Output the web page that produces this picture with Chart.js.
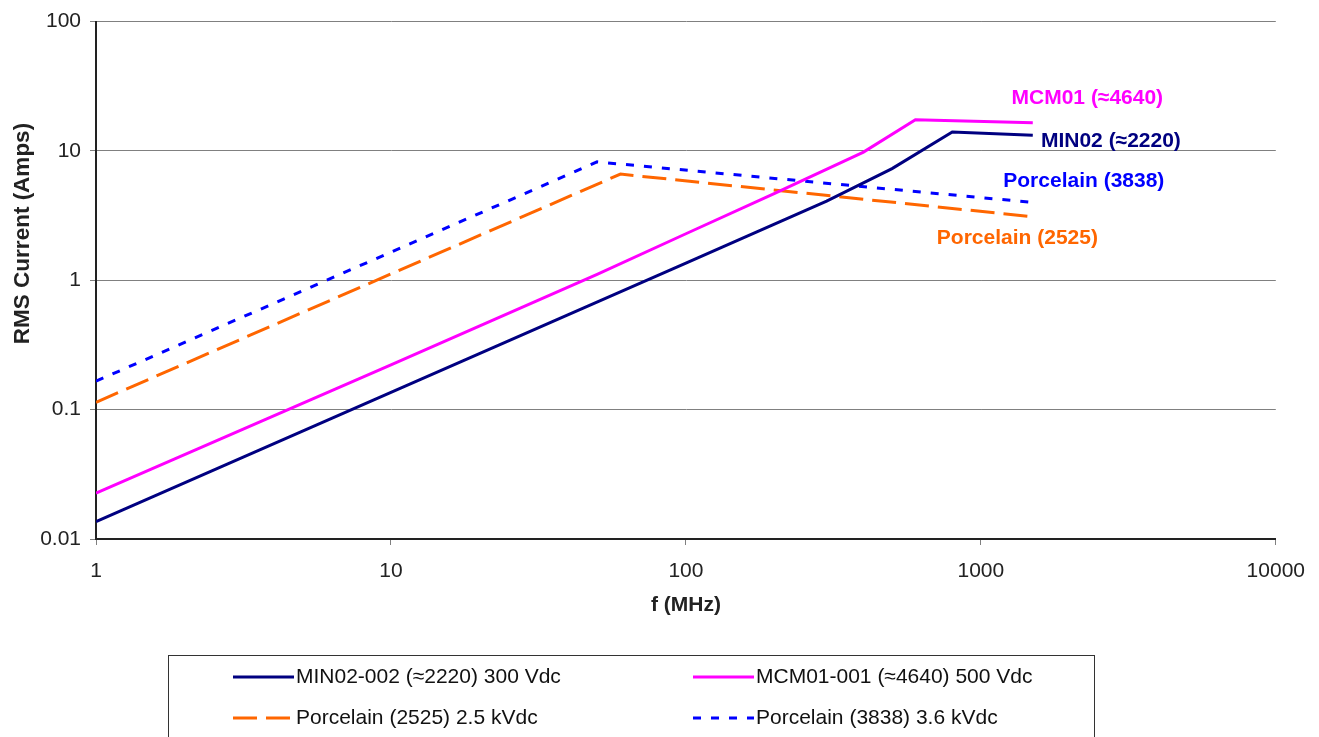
<!DOCTYPE html>
<html>
<head>
<meta charset="utf-8">
<title>RMS Current vs Frequency</title>
<script src="https://cdn.jsdelivr.net/npm/chart.js@4.4.0/dist/chart.umd.min.js"></script>
<style>
    html, body { margin: 0; padding: 0; background: #fff; }
    #wrap { width: 1319px; height: 737px; }
</style>
</head>
<body>
<div id="wrap"><canvas id="rmsChart" width="1319" height="737"></canvas></div>
<script>
// Данные: частота (МГц) и ток (А)
const min02Freq = [1, 10, 100, 300, 500, 800, 1500];
const min02Amps = [0.0136, 0.136, 1.36, 4.1, 7.3, 14.0, 13.2];

const mcm01Freq = [1, 10, 50, 100, 200, 400, 600, 1500];
const mcm01Amps = [0.0226, 0.222, 1.11, 2.29, 4.7, 9.8, 17.4, 16.5];

const p2525Freq = [1, 60, 1500];
const p2525Amps = [0.114, 6.62, 3.1];

const p3838Freq = [1, 50, 1500];
const p3838Amps = [0.166, 8.23, 4.0];

const seriesLabels = [
    'MIN02-002 (≈2220) 300 Vdc',
    'MCM01-001 (≈4640) 500 Vdc',
    'Porcelain (2525) 2.5 kVdc',
    'Porcelain (3838) 3.6 kVdc'
];

// Подписи осей
const xTickValues = [1, 10, 100, 1000, 10000];
const xTickLabels = ['1', '10', '100', '1000', '10000'];
const yTickValues = [0.01, 0.1, 1, 10, 100];
const yTickLabels = ['0.01', '0.1', '1', '10', '100'];

// Надписи у кривых (в координатах данных)
const noteTexts = ['MCM01 (≈4640)', 'MIN02 (≈2220)', 'Porcelain (3838)', 'Porcelain (2525)'];
const noteFreq = [2296, 2760, 2234, 1330];
const noteAmps = [25.6, 11.9, 5.88, 2.11];
const noteColors = ['#ff00ff', '#000080', '#0000ff', '#ff6600'];

const FONT = '"Liberation Sans", Arial, sans-serif';

function toPoints(xs, ys) {
    return xs.map((x, i) => ({ x: x, y: ys[i] }));
}

/**
 * Надписи у кривых, заголовок оси Y и рамка легенды
 */
const overlayPlugin = {
    id: 'overlay',
    afterDraw: function (chart) {
        const ctx = chart.ctx;
        const xs = chart.scales.x;
        const ys = chart.scales.y;
        ctx.save();

        ctx.font = 'bold 21px ' + FONT;
        ctx.textAlign = 'center';
        ctx.textBaseline = 'middle';
        noteTexts.forEach((t, i) => {
            ctx.fillStyle = noteColors[i];
            ctx.fillText(t, xs.getPixelForValue(noteFreq[i]), ys.getPixelForValue(noteAmps[i]));
        });

        // Заголовок оси Y
        ctx.save();
        ctx.translate(22.5, 233.5);
        ctx.rotate(-Math.PI / 2);
        ctx.fillStyle = '#222';
        ctx.font = 'bold 22.5px ' + FONT;
        ctx.fillText('RMS Current (Amps)', 0, 0);
        ctx.restore();

        // Легенда
        ctx.strokeStyle = '#333';
        ctx.lineWidth = 1;
        ctx.strokeRect(168.5, 655.5, 926, 120);

        const cols = [233, 693];
        const rows = [677, 718];
        ctx.font = '21px ' + FONT;
        ctx.textAlign = 'left';
        chart.data.datasets.forEach((ds, i) => {
            const x0 = cols[i % 2];
            const y0 = rows[Math.floor(i / 2)];
            ctx.save();
            ctx.strokeStyle = ds.borderColor;
            ctx.lineWidth = ds.borderWidth;
            ctx.setLineDash(ds.borderDash || []);
            ctx.beginPath();
            ctx.moveTo(x0, y0);
            ctx.lineTo(x0 + 61, y0);
            ctx.stroke();
            ctx.restore();
            ctx.fillStyle = '#111';
            ctx.fillText(ds.label, x0 + 63, y0);
        });

        ctx.restore();
    }
};

const ctx = document.getElementById('rmsChart');

new Chart(ctx, {
    type: 'line',
    data: {
        datasets: [{
            label: seriesLabels[0],
            data: toPoints(min02Freq, min02Amps),
            borderColor: '#000080',
            borderWidth: 3
        }, {
            label: seriesLabels[1],
            data: toPoints(mcm01Freq, mcm01Amps),
            borderColor: '#ff00ff',
            borderWidth: 3
        }, {
            label: seriesLabels[2],
            data: toPoints(p2525Freq, p2525Amps),
            borderColor: '#ff6600',
            borderWidth: 3,
            borderDash: [24, 9]
        }, {
            label: seriesLabels[3],
            data: toPoints(p3838Freq, p3838Amps),
            borderColor: '#0000ff',
            borderWidth: 3,
            borderDash: [8, 10]
        }]
    },
    options: {
        responsive: false,
        animation: false,
        layout: {
            padding: { left: 0, right: 43, top: 17, bottom: 118 }
        },
        elements: {
            point: { radius: 0 },
            line: { tension: 0, fill: false }
        },
        plugins: {
            legend: { display: false },
            tooltip: { enabled: false }
        },
        scales: {
            x: {
                type: 'logarithmic',
                min: 1,
                max: 10000,
                afterFit: function (scale) { scale.height = 80; },
                afterBuildTicks: function (scale) {
                    scale.ticks = xTickValues.map(v => ({ value: v }));
                },
                border: { color: '#222', width: 2 },
                grid: {
                    drawOnChartArea: false,
                    drawTicks: true,
                    tickLength: 6,
                    color: '#808080'
                },
                ticks: {
                    padding: 14,
                    maxRotation: 0,
                    color: '#222',
                    font: { family: FONT, size: 21 },
                    callback: function (value, index) { return xTickLabels[index]; }
                },
                title: {
                    display: true,
                    text: 'f (MHz)',
                    color: '#222',
                    padding: { top: 0, bottom: 1 },
                    font: { family: FONT, size: 21, weight: 'bold' }
                }
            },
            y: {
                type: 'logarithmic',
                min: 0.01,
                max: 100,
                afterFit: function (scale) { scale.width = 96; },
                afterBuildTicks: function (scale) {
                    scale.ticks = yTickValues.map(v => ({ value: v }));
                },
                border: { color: '#222', width: 2 },
                grid: {
                    color: '#808080',
                    lineWidth: 1,
                    tickLength: 6
                },
                ticks: {
                    padding: 9,
                    color: '#222',
                    font: { family: FONT, size: 21 },
                    callback: function (value, index) { return yTickLabels[index]; }
                }
            }
        }
    },
    plugins: [overlayPlugin]
});
</script>
</body>
</html>
